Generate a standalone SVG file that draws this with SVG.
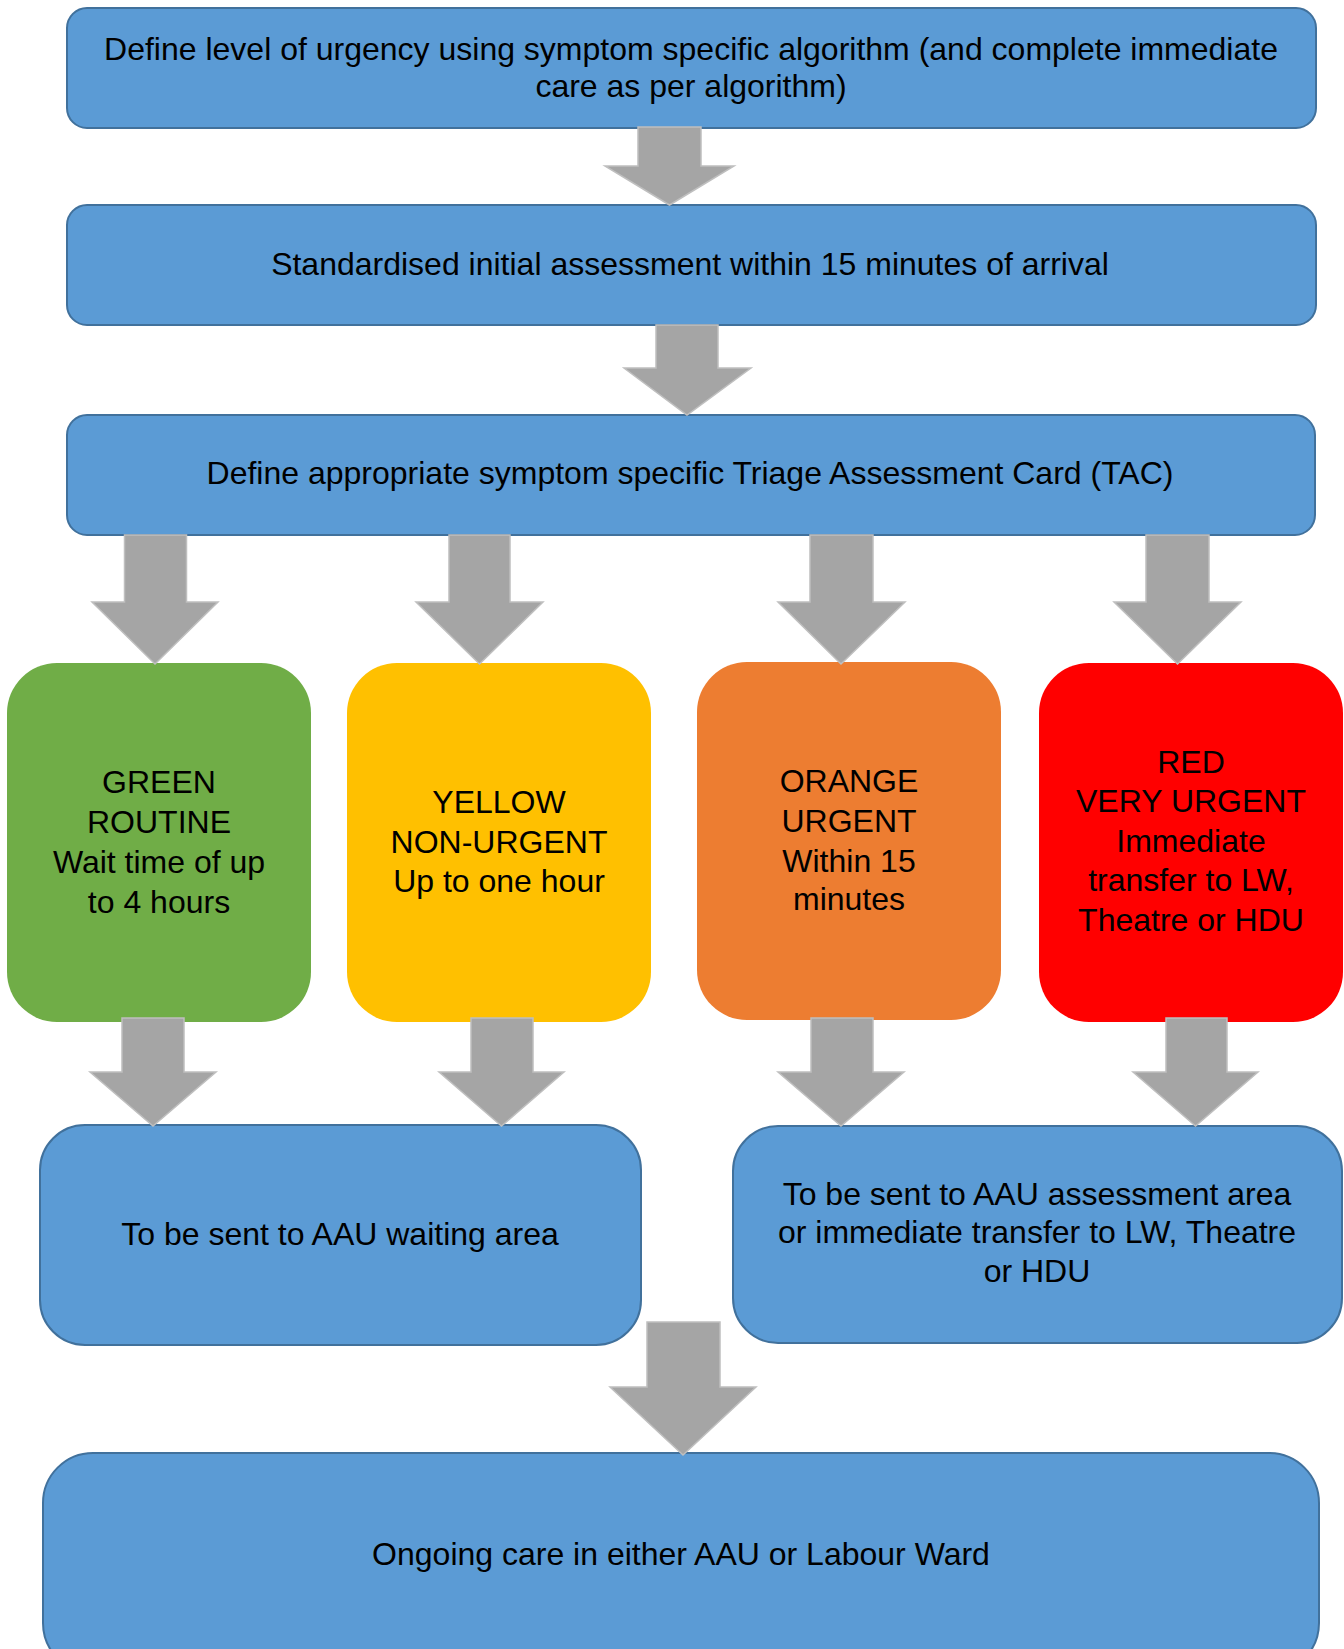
<svg xmlns="http://www.w3.org/2000/svg" width="1344" height="1649" viewBox="0 0 1344 1649">
<style>
.blue{fill:#5B9BD5;stroke:#41719C;stroke-width:2}
.t{font-family:"Liberation Sans",Arial,sans-serif;font-size:32px;fill:#000;text-anchor:middle}
.arr{fill:#A5A5A5;stroke:#BFBFBF;stroke-width:1.5;stroke-linejoin:miter}
</style>
<rect width="1344" height="1649" fill="#fff"/>
<g id="n1"><rect class="blue" x="67" y="8" width="1249" height="120" rx="20"/>
<text class="t" x="691" y="60">Define level of urgency using symptom specific algorithm (and complete immediate</text>
<text class="t" x="691" y="97">care as per algorithm)</text></g>
<g id="n2"><rect class="blue" x="67" y="205" width="1249" height="120" rx="20"/>
<text class="t" x="690" y="275">Standardised initial assessment within 15 minutes of arrival</text></g>
<g id="n3"><rect class="blue" x="67" y="415" width="1248" height="120" rx="20"/>
<text class="t" x="690" y="484">Define appropriate symptom specific Triage Assessment Card (TAC)</text></g>
<g id="green"><rect x="7" y="663" width="304" height="359" rx="50" fill="#70AD47"/>
<text class="t" x="159" y="793">GREEN</text><text class="t" x="159" y="833">ROUTINE</text>
<text class="t" x="159" y="873">Wait time of up</text><text class="t" x="159" y="913">to 4 hours</text></g>
<g id="yellow"><rect x="347" y="663" width="304" height="359" rx="50" fill="#FFC000"/>
<text class="t" x="499" y="813">YELLOW</text><text class="t" x="499" y="853">NON-URGENT</text>
<text class="t" x="499" y="892">Up to one hour</text></g>
<g id="orange"><rect x="697" y="662" width="304" height="358" rx="50" fill="#ED7D31"/>
<text class="t" x="849" y="792">ORANGE</text><text class="t" x="849" y="832">URGENT</text>
<text class="t" x="849" y="872">Within 15</text><text class="t" x="849" y="910">minutes</text></g>
<g id="red"><rect x="1039" y="663" width="304" height="359" rx="50" fill="#FF0000"/>
<text class="t" x="1191" y="773">RED</text><text class="t" x="1191" y="812">VERY URGENT</text>
<text class="t" x="1191" y="852">Immediate</text><text class="t" x="1191" y="891">transfer to LW,</text>
<text class="t" x="1191" y="931">Theatre or HDU</text></g>
<g id="waiting"><rect class="blue" x="40" y="1125" width="601" height="220" rx="45"/>
<text class="t" x="340" y="1245">To be sent to AAU waiting area</text></g>
<g id="assessment"><rect class="blue" x="733" y="1126" width="609" height="217" rx="45"/>
<text class="t" x="1037" y="1205">To be sent to AAU assessment area</text>
<text class="t" x="1037" y="1243">or immediate transfer to LW, Theatre</text>
<text class="t" x="1037" y="1282">or HDU</text></g>
<g id="ongoing"><rect class="blue" x="43" y="1453" width="1276" height="220" rx="50"/>
<text class="t" x="681" y="1565">Ongoing care in either AAU or Labour Ward</text></g>
<g id="connectors">
<polygon class="arr" points="638,127 701,127 701,166 734,166 669.5,205 605,166 638,166"/>
<polygon class="arr" points="656,325 718,325 718,368 751,368 687,415 624,368 656,368"/>
<polygon class="arr" points="124.5,535 186.5,535 186.5,602 218,602 155,664 92,602 124.5,602"/>
<polygon class="arr" points="449,535 510,535 510,602 543,602 479.5,664 416,602 449,602"/>
<polygon class="arr" points="810,535 873,535 873,602 905,602 841,664 778,602 810,602"/>
<polygon class="arr" points="1146,535 1209,535 1209,602 1241,602 1177.5,664 1114,602 1146,602"/>
<polygon class="arr" points="122,1018 184,1018 184,1072 216,1072 153,1126 90,1072 122,1072"/>
<polygon class="arr" points="471,1018 533,1018 533,1072 564,1072 501.5,1126 439,1072 471,1072"/>
<polygon class="arr" points="811,1018 873,1018 873,1072 904,1072 841,1126 778,1072 811,1072"/>
<polygon class="arr" points="1166,1018 1227,1018 1227,1072 1258,1072 1195.5,1126 1133,1072 1166,1072"/>
<polygon class="arr" points="647,1322 720,1322 720,1387 756,1387 683,1455 610,1387 647,1387"/>
</g>
</svg>
